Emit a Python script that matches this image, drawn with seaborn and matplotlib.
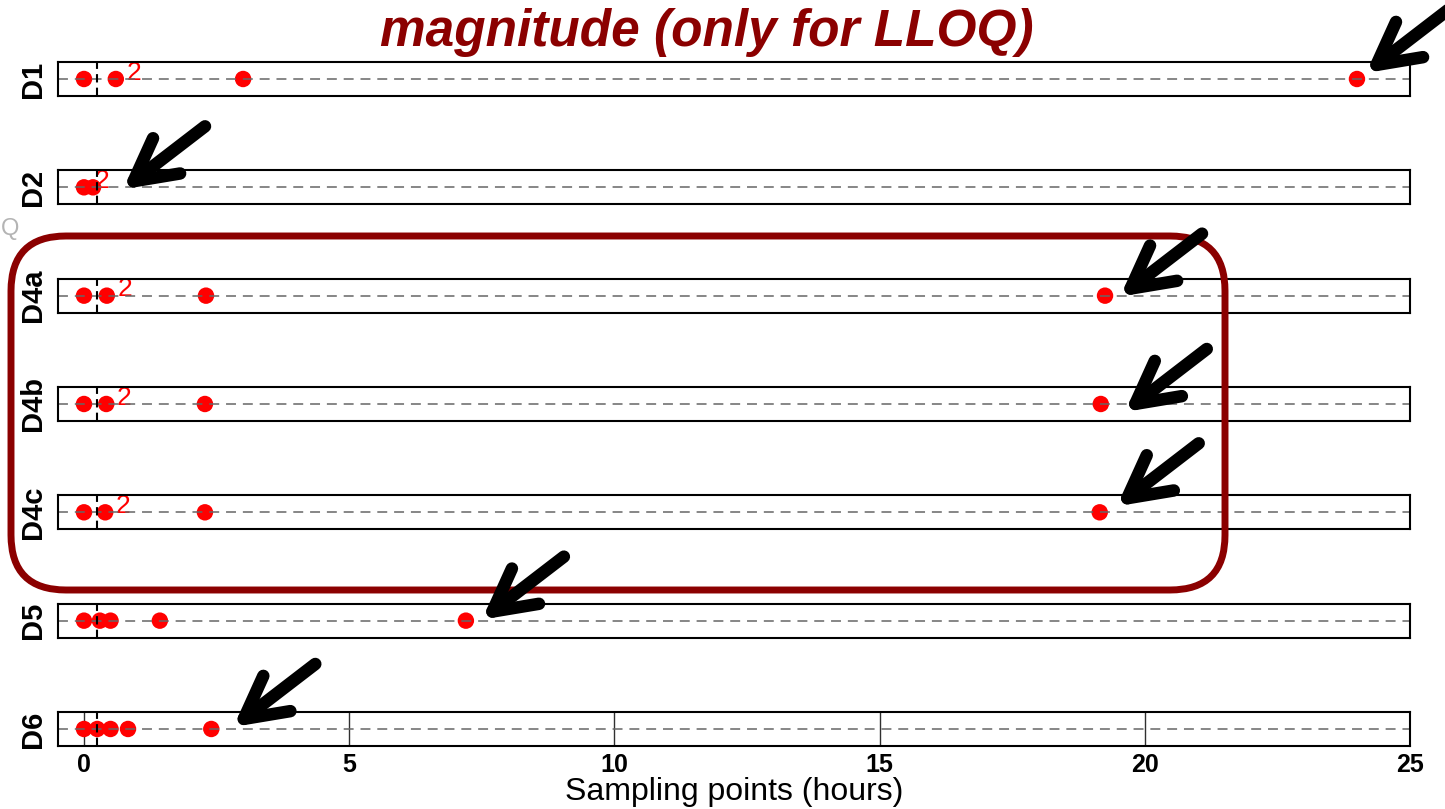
import matplotlib
matplotlib.use("Agg")
import matplotlib.pyplot as plt
import numpy as np
import pandas as pd
import seaborn as sns
from matplotlib.patches import FancyBboxPatch, ConnectionPatch
from matplotlib.transforms import offset_copy

# ---- data -------------------------------------------------------------
subjects = ["D1", "D2", "D4a", "D4b", "D4c", "D5", "D6"]
times_D1 = [0.0, 0.6, 3.0, 24.0]
times_D2 = [0.0, 0.17]
times_D4a = [0.0, 0.43, 2.3, 19.25]
times_D4b = [0.0, 0.42, 2.28, 19.17]
times_D4c = [0.0, 0.40, 2.28, 19.15]
times_D5 = [0.0, 0.3, 0.5, 1.43, 7.2]
times_D6 = [0.0, 0.25, 0.5, 0.83, 2.4]
sampling_times = [times_D1, times_D2, times_D4a, times_D4b, times_D4c, times_D5, times_D6]
# time point holding two samples (None: no duplicate)
duplicate_time = [0.6, 0.0, 0.43, 0.42, 0.40, None, None]
duplicate_label = "2"
dose_time = 0.25
x_ticks = [0, 5, 10, 15, 20, 25]

title = "magnitude (only for LLOQ)"
x_label = "Sampling points (hours)"

# ---- style ------------------------------------------------------------
sns.set_style("white")
plt.rcParams["font.family"] = ["Liberation Sans", "DejaVu Sans"]
plt.rcParams["text.color"] = "black"
plt.rcParams["axes.labelcolor"] = "black"
plt.rcParams["xtick.color"] = "black"

W, H = 1445, 809
fig = plt.figure(figsize=(W / 100, H / 100), dpi=100)

DARK_RED = "#8B0000"
left_px, right_px = 58, 1410
panel_h = 34
first_top, step = 62, 108.33

# arrow tip offsets (pixels) relative to the last sample of each subject
tip_offsets = [(9, 6), (30, -2), (15, -1), (24, -8), (17, 6), (16, 1), (22, 2)]
arrow_vec = (82, 63)

for i, (subj, times) in enumerate(zip(subjects, sampling_times)):
    top = first_top + i * step
    ax = fig.add_axes([left_px / W, 1 - (top + panel_h) / H,
                       (right_px - left_px) / W, panel_h / H])
    df = pd.DataFrame({"time": times, "y": np.zeros(len(times))})
    sns.scatterplot(data=df, x="time", y="y", ax=ax, color="#FF0000",
                    s=140, edgecolor="none", linewidth=0, zorder=1.7,
                    clip_on=False)
    ax.axhline(0, color="#666666", lw=1.1, dashes=(6.5, 4.5), zorder=2)
    ax.axvline(dose_time, color="black", lw=1.5, dashes=(4, 2.5), zorder=2.2)
    ax.set_xlim(-0.49, 25)
    ax.set_ylim(-1, 1)
    ax.set_yticks([])
    ax.set_ylabel(subj, fontsize=21, fontweight="bold", labelpad=8,
                  color="black")
    ax.set_xlabel("")
    for sp in ax.spines.values():
        sp.set_linewidth(1.5)
        sp.set_color("black")
    ax.tick_params(length=0)

    dup = duplicate_time[i]
    if dup is not None:
        ax.annotate(duplicate_label, xy=(dup, 0), xytext=(7.5, -4),
                    textcoords="offset points", color="#FF0000",
                    fontsize=19, ha="left", va="bottom", zorder=1.6)

    if i == len(subjects) - 1:
        ax.set_xticks(x_ticks)
        ax.set_xticklabels([str(t) for t in x_ticks], fontsize=18,
                           fontweight="bold", color="black")
        ax.tick_params(axis="x", pad=5)
        ax.grid(True, axis="x", color="#303030", lw=1.0)
        ax.set_xlabel(x_label, fontsize=23, labelpad=0, color="black")
    else:
        ax.set_xticks([])

    # arrow pointing at the last sampling point
    last = times[-1]
    tdx, tdy = tip_offsets[i]
    tip_tr = offset_copy(ax.transData, fig=fig, x=tdx, y=tdy, units="dots")
    tail_tr = offset_copy(ax.transData, fig=fig, x=tdx + arrow_vec[0],
                          y=tdy + arrow_vec[1], units="dots")
    arrow = ConnectionPatch(xyA=(last, 0), coordsA=tail_tr,
                            xyB=(last, 0), coordsB=tip_tr,
                            arrowstyle="->,head_length=1.5,head_width=0.8",
                            mutation_scale=20, lw=9, color="black",
                            capstyle="round", joinstyle="round",
                            shrinkA=0, shrinkB=0, zorder=5)
    fig.add_artist(arrow)

# rounded frame around the D4 group
x0, x1 = 11, 1225
y_top, y_bot = 236, 590
frame = FancyBboxPatch((x0 / 100, (H - y_bot) / 100), (x1 - x0) / 100,
                       (y_bot - y_top) / 100,
                       boxstyle="round,pad=0,rounding_size=0.55",
                       transform=fig.dpi_scale_trans, fill=False,
                       edgecolor=DARK_RED, lw=5, zorder=3)
fig.add_artist(frame)

fig.text(707 / W, 1 - 46 / H, title, ha="center", va="baseline",
         fontsize=37, fontweight="bold", fontstyle="italic", color=DARK_RED)
fig.text(0.5 / W, 1 - 235 / H, "Q", ha="left", va="baseline",
         fontsize=17, color="#b4b4b4")

fig.savefig("out.png", dpi=100)
